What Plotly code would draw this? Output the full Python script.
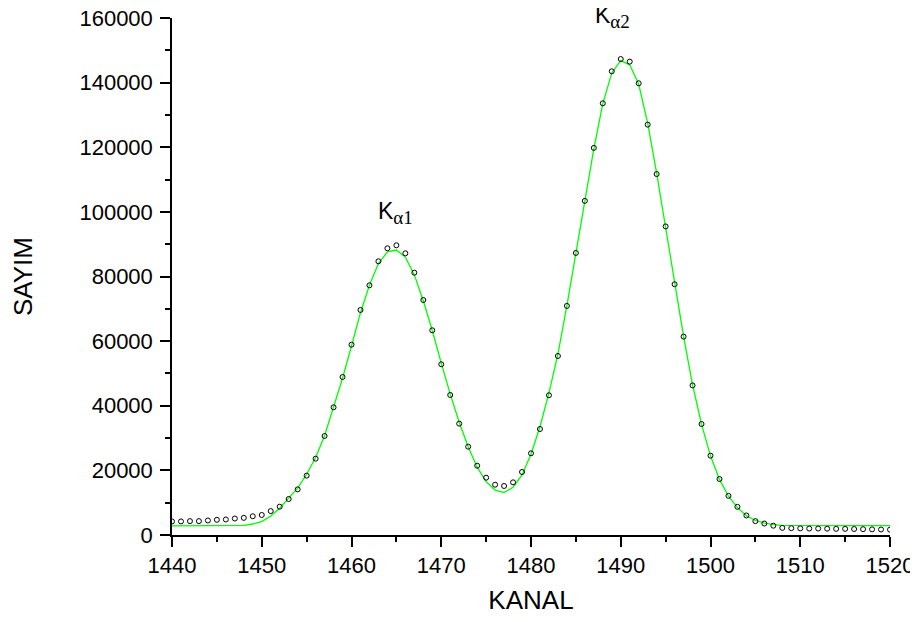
import plotly.graph_objects as go

channels = list(range(1440, 1521))

counts = [4200, 4200, 4300, 4300, 4500, 4700, 4800, 5100, 5300, 5800,
          6200, 7400, 8760, 11140, 14130, 18360, 23620, 30640, 39520, 48900,
          58900, 69640, 77280, 84700, 88730, 89660, 87180, 81180, 72730, 63350,
          52830, 43330, 34450, 27330, 21450, 17740, 15570, 15170, 16300, 19500,
          25280, 32800, 43240, 55400, 70900, 87300, 103400, 119800, 133600, 143500,
          147300, 146500, 139800, 127000, 111700, 95500, 77600, 61400, 46300, 34350,
          24550, 17330, 12120, 8720, 6040, 4290, 3550, 2880, 2200, 2100,
          2050, 2000, 2000, 1950, 1900, 1900, 1850, 1800, 1750, 1700, 1650]

fit = [2800, 2800, 2800, 2800, 2800, 2800, 2800, 2850, 3000, 3400,
       4150, 5900, 8300, 11400, 14500, 18800, 24000, 30700, 39300, 48500,
       58500, 68800, 77300, 84000, 87600, 88200, 86000, 80500, 72500, 63300,
       53200, 43600, 34900, 27300, 21000, 16500, 13900, 13100, 14800, 18600,
       25000, 33500, 44000, 56000, 71000, 87000, 103000, 119500, 133500, 143000,
       146800, 145500, 139500, 127500, 112000, 95500, 78000, 61500, 46500, 34300,
       24500, 17200, 12000, 8500, 6000, 4500, 3700, 3200, 3000, 2950,
       2900, 2900, 2900, 2900, 2900, 2900, 2900, 2900, 2900, 2900, 2900]

x_ticks = [1440, 1450, 1460, 1470, 1480, 1490, 1500, 1510, 1520]
y_ticks = [0, 20000, 40000, 60000, 80000, 100000, 120000, 140000, 160000]
y_tick_text = [str(v) for v in y_ticks]
x_tick_text = [str(v) for v in x_ticks]

peak_labels = ["K<sub><span style='font-family:Liberation Serif;font-size:19px'>α1</span></sub>",
               "K<sub><span style='font-family:Liberation Serif;font-size:19px'>α2</span></sub>"]
peak_label_x = [1462.75, 1486.9]
peak_label_y = [94500, 155000]

fig = go.Figure()
fig.add_trace(go.Scatter(
    x=channels, y=fit, mode="lines",
    line=dict(color="#00ff00", width=1.3),
    showlegend=False, hoverinfo="skip"))
fig.add_trace(go.Scatter(
    x=channels, y=counts, mode="markers",
    marker=dict(symbol="circle-open", size=5, color="black", line=dict(width=1, color="black")),
    showlegend=False))

for t, xx, yy in zip(peak_labels, peak_label_x, peak_label_y):
    fig.add_annotation(x=xx, y=yy, xref="x", yref="y", text=t, showarrow=False,
                       xanchor="left", yanchor="bottom",
                       font=dict(family="Liberation Sans", size=23, color="black"))

axis_common = dict(
    showgrid=False, zeroline=False, showline=True, linecolor="black", linewidth=1.5,
    ticks="outside", ticklen=10, tickwidth=1.5, tickcolor="black",
    tickfont=dict(family="Liberation Sans", size=22, color="black"),
    mirror=False, automargin=False, ticklabeloverflow="allow",
)

fig.update_layout(
    width=910, height=614,
    margin=dict(l=164, r=28, t=10, b=87),
    paper_bgcolor="white", plot_bgcolor="white",
    xaxis=dict(range=[1440, 1520], tickvals=x_ticks, ticktext=x_tick_text,
               title=dict(text="KANAL", font=dict(family="Liberation Sans", size=26, color="black"), standoff=14),
               minor=dict(dtick=5, tick0=1440, ticks="outside", ticklen=5, tickwidth=1.5, tickcolor="black"),
               **axis_common),
    yaxis=dict(range=[0, 160000], tickvals=y_ticks, ticktext=y_tick_text, ticklabelstandoff=3,
               title=dict(text="SAYIM", font=dict(family="Liberation Sans", size=26, color="black"), standoff=40),
               minor=dict(dtick=10000, tick0=0, ticks="outside", ticklen=5, tickwidth=1.5, tickcolor="black"),
               **axis_common),
)

fig.write_html("out.html")
